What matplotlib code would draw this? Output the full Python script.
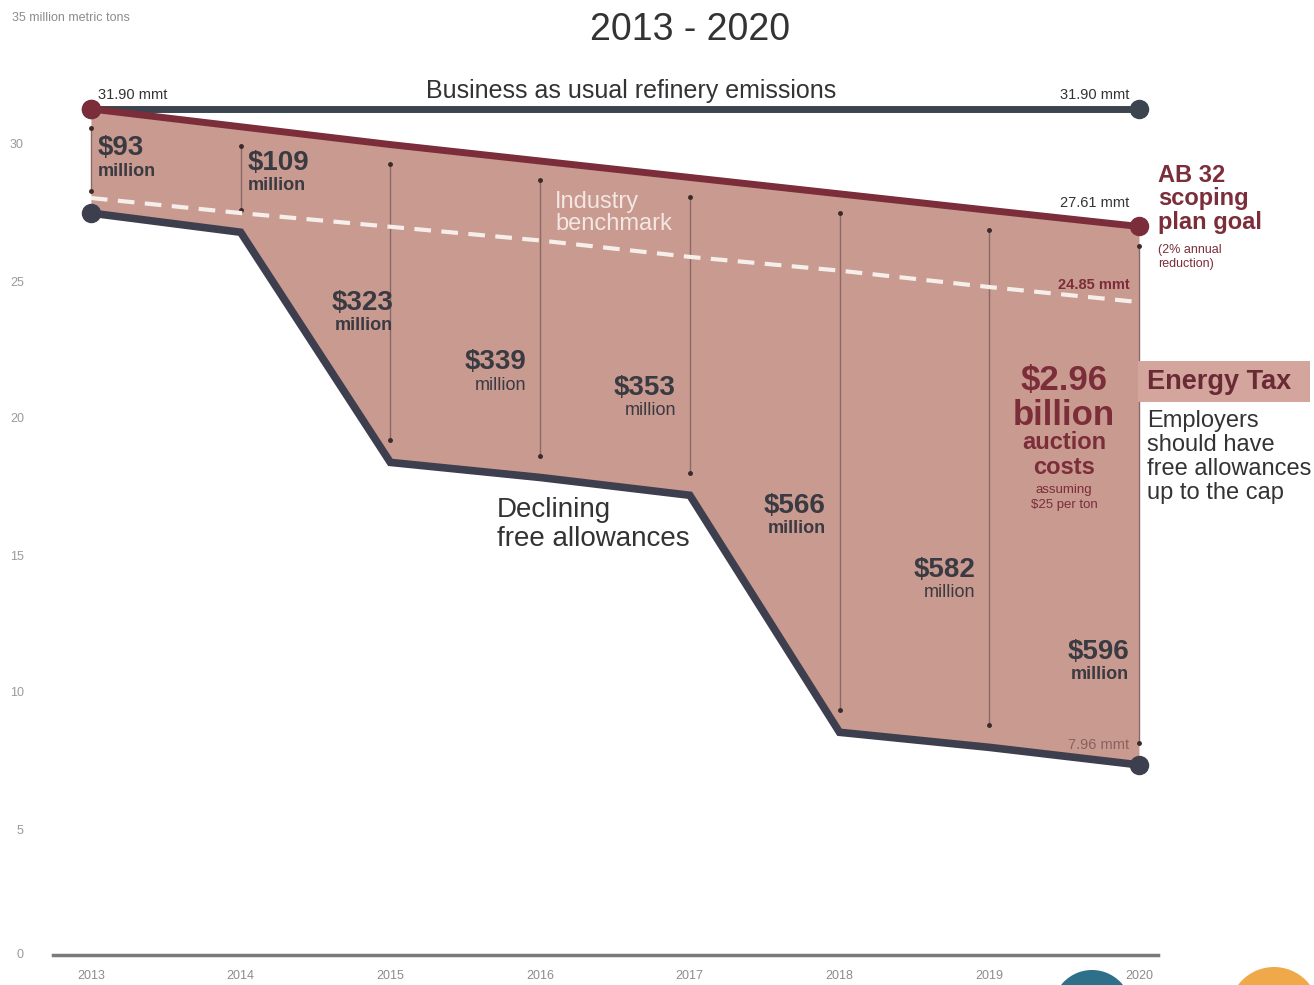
import matplotlib.pyplot as plt
from matplotlib import patches, transforms
import numpy as np

plt.rcParams['font.family'] = ['Liberation Sans', 'DejaVu Sans']

# emissions data, million metric tons
years = [2013, 2014, 2015, 2016, 2017, 2018, 2019, 2020]
bau = [31.90, 31.90, 31.90, 31.90, 31.90, 31.90, 31.90, 31.90]
cap = [31.90, 31.25, 30.6, 30.0, 29.4, 28.8, 28.2, 27.61]
free = [28.1, 27.4, 19.0, 18.45, 17.8, 9.15, 8.6, 7.96]
bench = [28.65, 28.1, 27.6, 27.1, 26.5, 26.0, 25.4, 24.85]

# yearly auction cost labels
costs = ['$93', '$109', '$323', '$339', '$353', '$566', '$582', '$596']
yticks = [0, 5, 10, 15, 20, 25, 30]

# where the cost labels sit inside the shaded band
cost_y = [30.47, 29.93, 24.82, 22.66, 21.72, 17.41, 15.07, 12.08]
cost_dx = [5, 5, 2, -10, -10, -10, -10, -7]   # points from the year line
cost_bold = [True, True, True, False, False, True, False, True]

FILL = '#c99a8f'
MAROON = '#7b2d3a'
SLATE = '#3c4450'
LOWLINE = '#3e3f4e'
DARK = '#3a3a42'
GREY = '#8c8c8c'

W, H = 1314, 985
fig = plt.figure(figsize=(W / 100, H / 100), dpi=100)
ax = fig.add_axes([53 / W, 2 / H, 1105 / W, 959 / H])
ax.set_xlim(2012.747, 2020.127)
ax.set_ylim(0, 35)

# shaded gap between cap and free allowances
ax.fill_between(years, free, cap, color=FILL, lw=0, zorder=1)

# thin year dividers inside the band
top = np.array(cap) - 0.7
bot = np.array(free) + 0.8
ax.vlines(years, bot, top, color='#8a6a66', lw=1, zorder=2)
ax.plot(years, top, 'o', ms=2.5, color='#3a2a2a', zorder=2)
ax.plot(years, bot, 'o', ms=2.5, color='#3a2a2a', zorder=2)

ax.plot(years, bau, color=SLATE, lw=5, marker='o', ms=13, markevery=[0, -1], zorder=3)
ax.plot(years, free, color=LOWLINE, lw=5.5, marker='o', ms=13, markevery=[0, -1],
        solid_joinstyle='miter', zorder=3)
ax.plot(years, cap, color=MAROON, lw=5, marker='o', ms=13, markevery=[0, -1], zorder=4)
ax.plot(years, bench, color='#f6eeeb', lw=3, ls=(0, (4, 2.5)), zorder=3)

# cost labels
for i, (yr, c, yy) in enumerate(zip(years, costs, cost_y)):
    ha = 'left' if i < 2 else 'right'
    ax.annotate(c, (yr, yy), xytext=(cost_dx[i], 0), textcoords='offset points',
                ha=ha, va='center', fontsize=20, weight='bold', color=DARK, zorder=5)
    ax.annotate('million', (yr, yy), xytext=(cost_dx[i], -16.5), textcoords='offset points',
                ha=ha, va='center', fontsize=13,
                weight='bold' if cost_bold[i] else 'normal', color=DARK, zorder=5)

# end-point value labels
lab = dict(textcoords='offset points', va='center', fontsize=10.5, color='#333333')
ax.annotate('%.2f mmt' % bau[0], (years[0], bau[0]), xytext=(5, 10), ha='left', **lab)
ax.annotate('%.2f mmt' % bau[-1], (years[-1], bau[-1]), xytext=(-7, 10), ha='right', **lab)
ax.annotate('%.2f mmt' % cap[-1], (years[-1], cap[-1]), xytext=(-7, 17), ha='right', **lab)
ax.annotate('%.2f mmt' % bench[-1], (years[-1], bench[-1]), xytext=(-7, 12), ha='right',
            textcoords='offset points', va='center', fontsize=10.5, weight='bold', color=MAROON)
ax.annotate('%.2f mmt' % free[-1], (years[-1], free[-1]), xytext=(-7, 14), ha='right',
            textcoords='offset points', va='center', fontsize=10.5, color='#8a6060')

ax.text(2016.61, 32.55, 'Business as usual refinery emissions', ha='center', va='center',
        fontsize=18, color='#333333', zorder=5)
ax.text(2016.1, 28.1, 'Industry\nbenchmark', ha='left', va='center', fontsize=17,
        color='#f3e6e3', linespacing=1.05, zorder=5)
ax.text(2015.71, 16.75, 'Declining\nfree allowances', ha='left', va='center', fontsize=20,
        color='#333333', linespacing=1.15, zorder=5)

# big auction cost callout
ax.text(2019.5, 22.0, '$2.96', ha='center', va='center', fontsize=25, weight='bold', color=MAROON)
ax.text(2019.5, 20.7, 'billion', ha='center', va='center', fontsize=25, weight='bold', color=MAROON)
ax.text(2019.5, 20.15, 'auction\ncosts', ha='center', va='top', fontsize=17, weight='bold',
        color=MAROON, linespacing=1.1)
ax.text(2019.5, 18.2, 'assuming\n$25 per ton', ha='center', va='top', fontsize=9.5,
        color=MAROON, linespacing=1.35)

# axes styling
for s in ['top', 'right', 'left']:
    ax.spines[s].set_visible(False)
ax.spines['bottom'].set_position(('outward', -20.2))
ax.spines['bottom'].set_color('#7a7a7a')
ax.spines['bottom'].set_linewidth(2.5)
ax.set_xticks(years)
ax.set_xticklabels([str(y) for y in years])
ax.tick_params(axis='x', length=0, pad=11, labelsize=9, labelcolor=GREY)
ax.set_yticks(yticks)
ax.set_yticklabels([str(v) for v in yticks])
ax.tick_params(axis='y', length=0, pad=21, labelsize=9, labelcolor='#9a9a9a')
for v, t in zip(yticks, ax.yaxis.get_major_ticks()):
    # the zero label sits on the baseline, the rest a little above their level
    up = 0.30 if v == 0 else 0.17
    shift = transforms.ScaledTranslation(0, up, fig.dpi_scale_trans)
    t.label1.set_transform(t.label1.get_transform() + shift)

# figure level text
fig.text(690 / W, 1 - 30 / H, '2013 - 2020', ha='center', va='center', fontsize=27, color='#333333')
fig.text(12 / W, 1 - 18 / H, '35 million metric tons', ha='left', va='center', fontsize=9, color=GREY)

fig.text(1158 / W, 1 - 199 / H, 'AB 32\nscoping\nplan goal', ha='left', va='center', fontsize=17,
         weight='bold', color=MAROON, linespacing=1.05)
fig.text(1158 / W, 1 - 257 / H, '(2% annual\nreduction)', ha='left', va='center', fontsize=9,
         color=MAROON, linespacing=1.25)

fig.add_artist(patches.Rectangle((1138 / W, 1 - 402 / H), 172 / W, 41 / H,
                                 transform=fig.transFigure, color='#d3a59c', lw=0))
fig.text(1147 / W, 1 - 382 / H, 'Energy Tax', ha='left', va='center', fontsize=19.5,
         weight='bold', color='#6a2a35')
fig.text(1147 / W, 1 - 457 / H, 'Employers\nshould have\nfree allowances\nup to the cap',
         ha='left', va='center', fontsize=17, color='#333333', linespacing=1.12)

# logo circles cut off at the bottom edge
fig.add_artist(patches.Ellipse((1092 / W, -24.5 / H), 79 / W, 79 / H,
                               transform=fig.transFigure, color='#2e6f8a', lw=0))
fig.add_artist(patches.Ellipse((1274 / W, -27 / H), 90 / W, 90 / H,
                               transform=fig.transFigure, color='#f0a94a', lw=0))

fig.savefig('out.png', dpi=100)
